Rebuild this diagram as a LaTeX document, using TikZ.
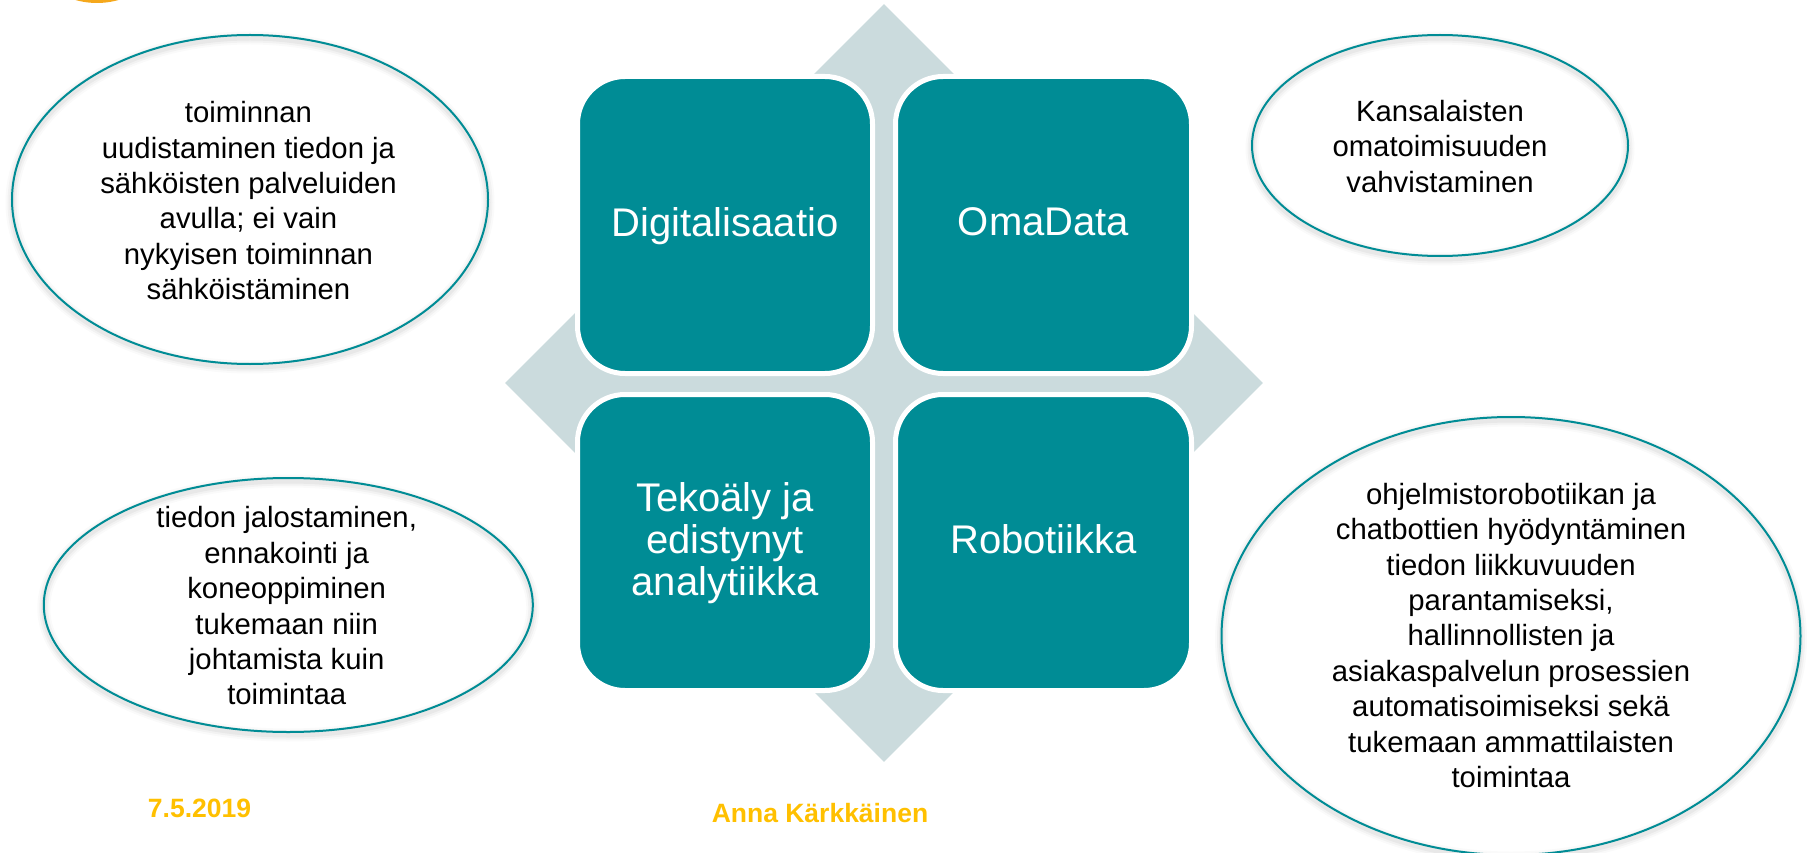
\documentclass[tikz,border=0pt]{standalone}
\usepackage{fontspec}
\setmainfont{Liberation Sans}
\usetikzlibrary{shapes.geometric}
\definecolor{teal1}{HTML}{008C95}
\definecolor{pale}{HTML}{CBDBDD}
\definecolor{gold}{HTML}{FFC000}
\definecolor{orange1}{HTML}{F5A81C}
\tikzset{
  bubble/.style={ellipse,inner sep=0pt,draw=teal1,line width=2pt,
    preaction={draw=black,draw opacity=.02,line width=13pt,transform canvas={yshift=-3pt}},
    preaction={draw=black,draw opacity=.03,line width=9pt,transform canvas={yshift=-3pt}},
    preaction={draw=black,draw opacity=.04,line width=5pt,transform canvas={yshift=-3pt}}},
  tile/.style={draw=white,line width=5pt,fill=teal1,rounded corners=47.5pt,text=white,
    inner sep=0pt,align=center,text depth=6pt,font=\fontsize{40pt}{42pt}\selectfont},
  body/.style={align=center,inner sep=0pt,text=black,font=\fontsize{29.3pt}{35.4pt}\selectfont},
  foot/.style={text=gold,inner sep=0pt,font=\fontsize{26.5pt}{32pt}\selectfont\bfseries}
}
\begin{document}
\begin{tikzpicture}[x=1pt,y=-1pt]
\useasboundingbox (0,0) rectangle (1807,853);
\clip (0,0) rectangle (1807,853);
\fill[white] (0,0) rectangle (1807,853);
\node[ellipse,fill=orange1,minimum width=156pt,minimum height=156pt,inner sep=0pt] (logo) at (97,-75) {};
\node[diamond,fill=pale,minimum width=758pt,minimum height=758pt,inner sep=0pt,aspect=1] (cross) at (884,383) {};
\node[tile,minimum width=295pt,minimum height=297pt] (dig) at (725,225) {Digitalisaatio};
\node[tile,minimum width=296pt,minimum height=297pt] (oma) at (1043.5,225) {OmaData};
\node[tile,minimum width=295pt,minimum height=296pt] (tek) at (725,542.5) {Tekoäly ja\\edistynyt\\analytiikka};
\node[tile,minimum width=296pt,minimum height=296pt] (rob) at (1043.5,542.5) {Robotiikka};
\node[bubble,minimum width=476pt,minimum height=329pt] (e1) at (250,199.5) {};
\node[bubble,minimum width=376pt,minimum height=221pt] (e2) at (1440,145.5) {};
\node[bubble,minimum width=489pt,minimum height=254pt] (e3) at (288.3,605) {};
\node[bubble,minimum width=579pt,minimum height=438pt] (e4) at (1511,636) {};
\node[body] (t1) at (248.5,200.8) {toiminnan\\uudistaminen tiedon ja\\sähköisten palveluiden\\avulla; ei vain\\nykyisen toiminnan\\sähköistäminen};
\node[body] (t2) at (1440,146.5) {Kansalaisten\\omatoimisuuden\\vahvistaminen};
\node[body] (t3) at (286.7,606) {tiedon jalostaminen,\\ennakointi ja\\koneoppiminen\\tukemaan niin\\johtamista kuin\\toimintaa};
\node[body] (t4) at (1511,635.5) {ohjelmistorobotiikan ja\\chatbottien hyödyntäminen\\tiedon liikkuvuuden\\parantamiseksi,\\hallinnollisten ja\\asiakaspalvelun prosessien\\automatisoimiseksi sekä\\tukemaan ammattilaisten\\toimintaa};
\node[foot] (date) at (199.5,808.5) {7.5.2019};
\node[foot] (name) at (820,813.5) {Anna Kärkkäinen};
\end{tikzpicture}
\end{document}
